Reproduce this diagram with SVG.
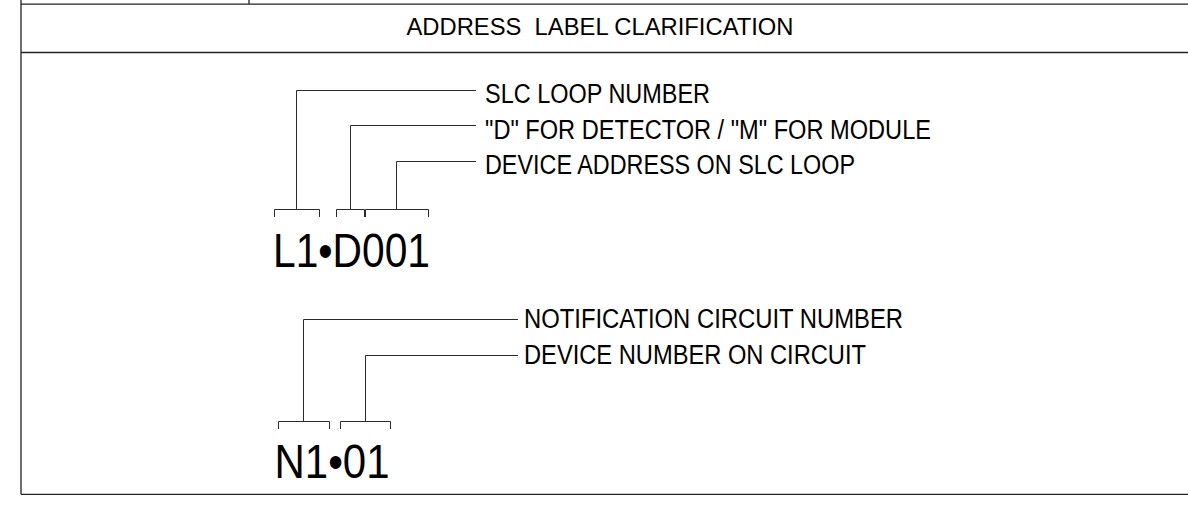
<svg xmlns="http://www.w3.org/2000/svg" width="1188" height="506" viewBox="0 0 1188 506">
<style>
.ln{stroke:#2a2a2a;stroke-width:1;fill:none}
.fr{stroke:#222;stroke-width:1.3;fill:none}
.t{font-family:"Liberation Sans",Arial,sans-serif;fill:#000}
.s{font-size:27px}
.big{font-size:49px}
</style>
<rect width="1188" height="506" fill="#fff"/>
<g id="frame">
<path class="fr" d="M21 0V494.3M21 4.2H1188M249 0V4.2M21 52.5H1188M21 494.3H1188"/>
<text class="t" x="406.5" y="34.5" font-size="24.5" textLength="387" lengthAdjust="spacingAndGlyphs">ADDRESS&#160; LABEL CLARIFICATION</text>
</g>
<g id="connectors">
<path class="ln" d="M274.5 217V209.5H319.5V217M296.5 209.5V90.5H476"/>
<path class="ln" d="M336.5 217V209.5H364.5V217M350.5 209.5V125.5H476"/>
<path class="ln" d="M365.5 217V209.5H428.5V217M396.5 209.5V161.5H476"/>
<path class="ln" d="M278.5 429V421.5H329.5V429M303.5 421.5V319.5H518"/>
<path class="ln" d="M340.5 429V421.5H390.5V429M365.5 421.5V355.5H518"/>
</g>
<g id="slc-label">
<text class="t big" x="273" y="266.7" textLength="157" lengthAdjust="spacingAndGlyphs">L1•D001</text>
</g>
<g id="slc-loop"><text class="t s" x="485" y="103" textLength="225" lengthAdjust="spacingAndGlyphs">SLC LOOP NUMBER</text></g>
<g id="d-or-m"><text class="t s" x="485" y="138.5" textLength="446" lengthAdjust="spacingAndGlyphs">"D" FOR DETECTOR / "M" FOR MODULE</text></g>
<g id="device-address"><text class="t s" x="485" y="174" textLength="370" lengthAdjust="spacingAndGlyphs">DEVICE ADDRESS ON SLC LOOP</text></g>
<g id="nac-label">
<text class="t big" x="274.5" y="478.3" textLength="115" lengthAdjust="spacingAndGlyphs">N1•01</text>
</g>
<g id="nac-number"><text class="t s" x="524" y="328" textLength="379" lengthAdjust="spacingAndGlyphs">NOTIFICATION CIRCUIT NUMBER</text></g>
<g id="device-number"><text class="t s" x="524" y="363.5" textLength="342" lengthAdjust="spacingAndGlyphs">DEVICE NUMBER ON CIRCUIT</text></g>
</svg>
